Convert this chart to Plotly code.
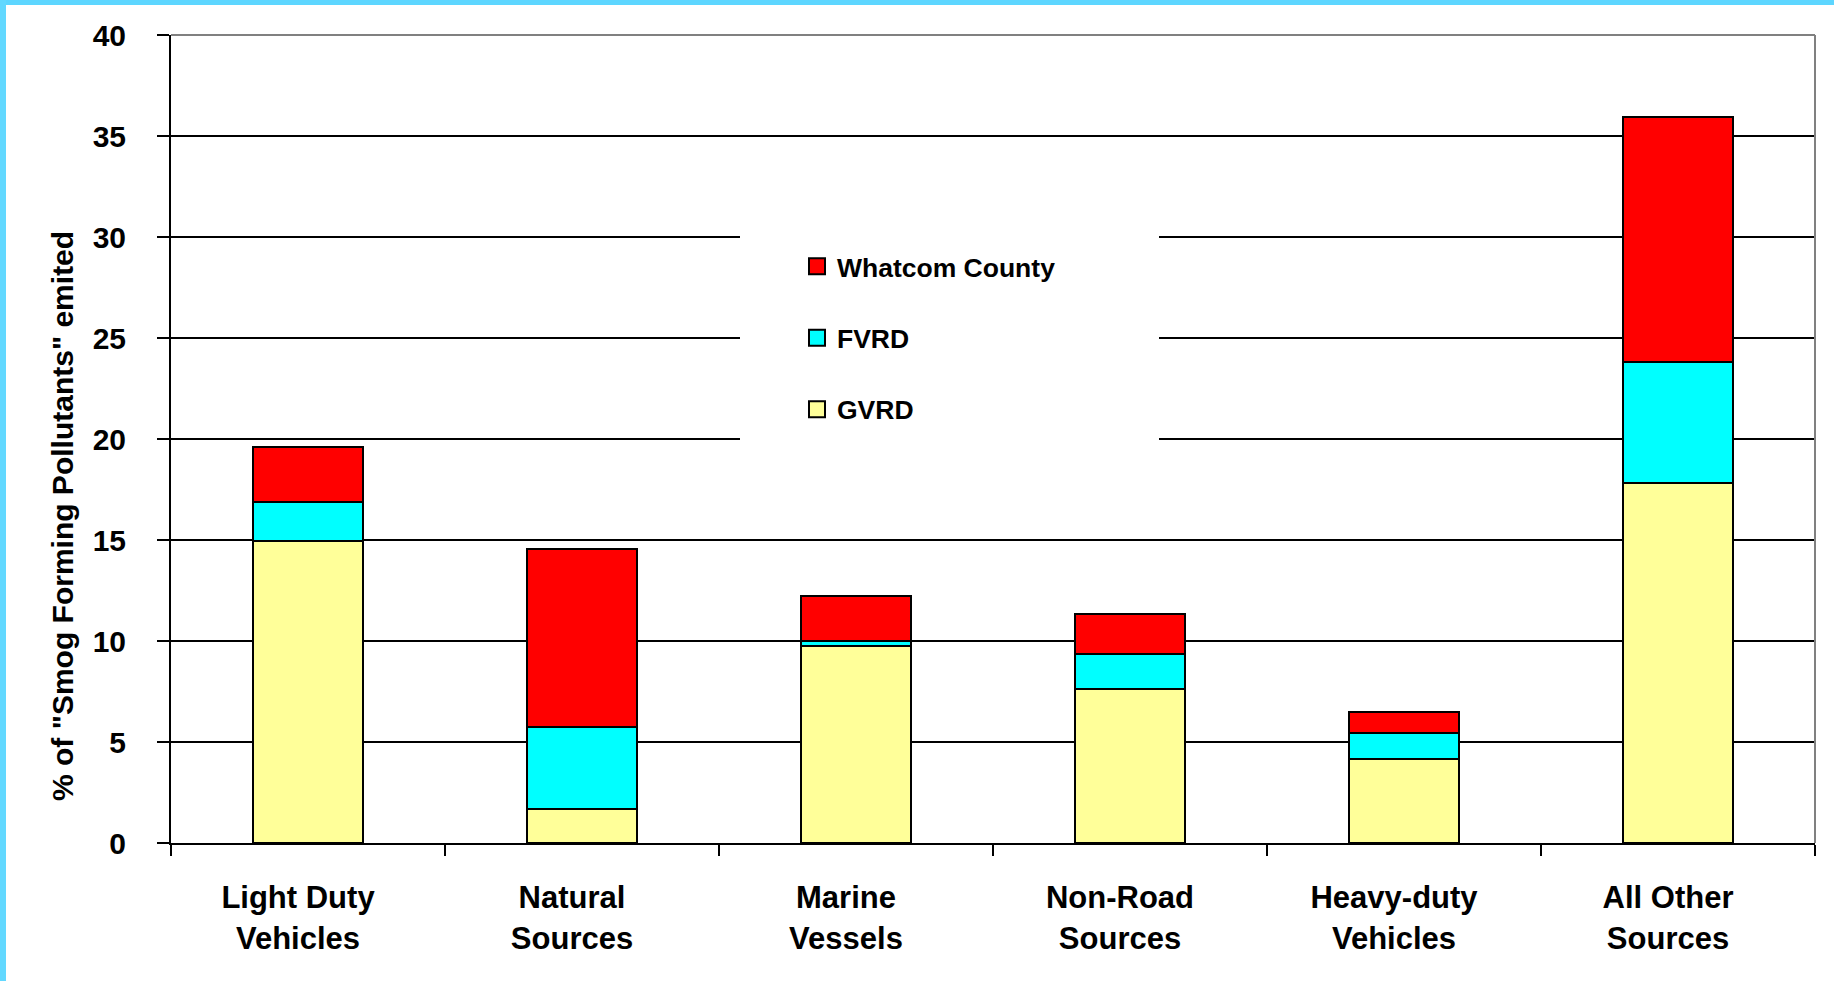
import plotly.graph_objects as go

categories = ["Light Duty Vehicles", "Natural Sources", "Marine Vessels",
              "Non-Road Sources", "Heavy-duty Vehicles", "All Other Sources"]
tick_labels = ["Light Duty<br>Vehicles", "Natural<br>Sources", "Marine<br>Vessels",
               "Non-Road<br>Sources", "Heavy-duty<br>Vehicles", "All Other<br>Sources"]
gvrd = [14.95, 1.68, 9.77, 7.64, 4.15, 17.84]
fvrd = [1.92, 4.05, 0.23, 1.74, 1.31, 5.96]
whatcom = [2.72, 8.81, 2.21, 1.98, 1.04, 12.14]
series_names = ["GVRD", "FVRD", "Whatcom County"]
series_colors = ["#FFFF99", "#00FFFF", "#FF0000"]
legend_ranks = [3, 2, 1]
y_title = '% of "Smog Forming Pollutants" emited'
y_ticks = [0, 5, 10, 15, 20, 25, 30, 35, 40]

W, H = 1834, 981
L, R, T, B = 171, 19, 35, 138
PW, PH = W - L - R, H - T - B

def px_x(p):
    return (p - L) / PW

def px_y(p):
    return (H - B - p) / PH

FONT = "Liberation Sans, Arial, Helvetica, sans-serif"

fig = go.Figure()
for name, vals, col in zip(series_names, [gvrd, fvrd, whatcom], series_colors):
    fig.add_trace(go.Bar(
        x=categories, y=vals, name=name, showlegend=False,
        marker=dict(color=col, line=dict(color="black", width=2)),
    ))
# legend entries (square swatches)
for name, col, rank in zip(series_names, series_colors, legend_ranks):
    fig.add_trace(go.Scatter(
        x=[None], y=[None], mode="markers", name=name, legendgroup=name,
        legendrank=rank,
        marker=dict(symbol="square", size=16, color=col, line=dict(color="black", width=2)),
    ))

shapes = [
    # white legend box that hides gridlines
    dict(type="rect", xref="paper", yref="paper", x0=px_x(740), x1=px_x(1159),
         y0=px_y(470), y1=px_y(200), fillcolor="white", line=dict(width=0), layer="above"),
    # gray plot-area border (top/right)
    dict(type="line", xref="paper", yref="paper", x0=0, x1=1, y0=1, y1=1,
         line=dict(color="#808080", width=2)),
    dict(type="line", xref="paper", yref="paper", x0=1, x1=1, y0=0, y1=1,
         line=dict(color="#808080", width=2)),
    # cyan page frame
    dict(type="rect", xref="paper", yref="paper", x0=px_x(-5), x1=px_x(W + 5),
         y0=px_y(5), y1=px_y(-5), fillcolor="#5DD6FF", line=dict(width=0)),
    dict(type="rect", xref="paper", yref="paper", x0=px_x(-5), x1=px_x(6),
         y0=px_y(H + 5), y1=px_y(-5), fillcolor="#62D8FF", line=dict(width=0)),
]

fig.update_layout(
    width=W, height=H,
    margin=dict(l=L, r=R, t=T, b=B, autoexpand=False),
    paper_bgcolor="white", plot_bgcolor="white",
    barmode="stack", bargap=0.6,
    font=dict(family=FONT, color="black", weight="bold"),
    showlegend=True,
    legend=dict(
        x=px_x(797), y=px_y(242.5), xanchor="left", yanchor="top",
        bgcolor="rgba(0,0,0,0)", traceorder="grouped",
        tracegroupgap=34, font=dict(size=26.5, family=FONT, weight="bold"),
    ),
    shapes=shapes,
    annotations=[dict(
        text=y_title, xref="paper", yref="paper", x=px_x(62), y=px_y(516),
        showarrow=False, textangle=-90, xanchor="center", yanchor="middle",
        font=dict(size=30, family=FONT, weight="bold", color="black"),
    )],
)

fig.update_xaxes(
    type="category", categoryorder="array", categoryarray=categories,
    tickmode="array", tickvals=categories, ticktext=tick_labels,
    tickson="boundaries", ticks="outside", ticklen=11, tickwidth=2, tickcolor="black",
    showline=True, linecolor="black", linewidth=2, showgrid=False, zeroline=False,
    tickfont=dict(size=31, family=FONT, weight="bold"),
    ticklabelshift=-10, ticklabelstandoff=26,
)
fig.update_yaxes(
    range=[0, 40], tickmode="array", tickvals=y_ticks,
    ticks="outside", ticklen=12, tickwidth=2, tickcolor="black",
    showline=True, linecolor="black", linewidth=2,
    showgrid=True, gridcolor="black", gridwidth=2, zeroline=False,
    tickfont=dict(size=30, family=FONT, weight="bold"),
    ticklabelstandoff=25,
)

fig.write_html("out.html")
